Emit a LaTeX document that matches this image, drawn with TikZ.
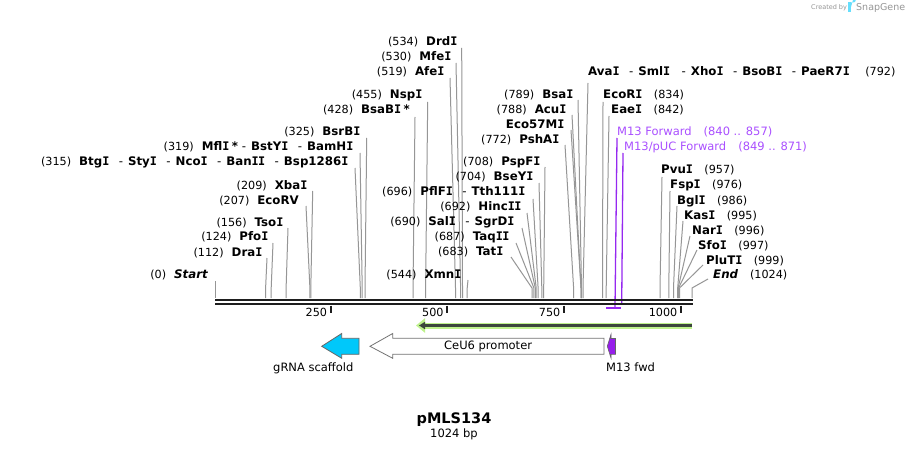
\documentclass[tikz,border=0pt]{standalone}
\usepackage{fontspec}
\setmainfont{DejaVu Sans}
\newfontfamily\monob{DejaVu Sans Mono}
\usetikzlibrary{arrows.meta}
\definecolor{cutgray}{RGB}{150,150,150}
\definecolor{primtxt}{RGB}{170,80,255}
\definecolor{primline}{RGB}{150,40,240}
\definecolor{m13fill}{RGB}{150,30,235}
\definecolor{cyanfill}{RGB}{0,200,250}
\definecolor{glowgreen}{RGB}{190,242,140}
\definecolor{darkline}{RGB}{60,70,60}
\definecolor{bb}{RGB}{30,30,30}
\definecolor{logo}{RGB}{150,150,150}
\newcommand{\numf}{\fontsize{11.2}{13}\selectfont}
\newcommand{\enzf}{\fontsize{11.8}{13}\selectfont\bfseries}
\newcommand{\VI}{{\monob I}\kern-0.6pt}
\newcommand{\cutL}[2]{{\numf(#1)}\hspace{8pt}{\enzf #2}}
\newcommand{\cutR}[2]{{\enzf #1}\hspace{12pt}{\numf(#2)}}
\newcommand{\dsh}{\hspace{10pt}{\mdseries-}\hspace{5pt}}
\newcommand{\cutline}[4]{%
  \coordinate (#1s) at (#2,#3);
  \coordinate (#1k) at (#4,288);
  \coordinate (#1e) at (#4,298);
  \draw[cutln] (#1s) -- (#1k) -- (#1e);}
\begin{document}
\begin{tikzpicture}[x=1pt,y=-1pt,
  lblL/.style={anchor=base east,inner sep=0pt},
  lblR/.style={anchor=base west,inner sep=0pt},
  cutln/.style={draw=cutgray,line width=1pt},
  primln/.style={draw=primline,line width=1.3pt},
  featlbl/.style={anchor=base west,inner sep=0pt,font=\fontsize{11.5}{13}\selectfont},
  tickln/.style={draw=bb,line width=2pt},
  ticklbl/.style={anchor=base east,inner sep=0pt,font=\fontsize{11.2}{13}\selectfont}]
\useasboundingbox (0,0) rectangle (909,449);
\fill[white] (0,0) rectangle (909,449);

% logo
\node[anchor=base west,inner sep=0pt,text=logo,font=\fontsize{6.5}{8}\selectfont] (cby) at (811,10) {Created by};
\fill[cyanfill!60] (848,2.5) rectangle (851,12);
\fill[cyanfill!60] (851,2.5) -- (853.5,2.5) arc (90:-90:2.2) -- (851,6.9) -- cycle;
\node[anchor=base west,inner sep=0pt,text=logo,font=\fontsize{9.5}{11}\selectfont] (sgn) at (856,11) {SnapGene};

% ---------- left stack ----------
\node[lblL] (start) at (208,278.7) {{\numf(0)}\hspace{8pt}{\enzf\itshape Start}};
\cutline{c0}{215.3}{281}{215.3}
\node[lblL] (dra) at (262,256) {\cutL{112}{Dra\VI}};
\cutline{c1}{267}{258}{265.6}
\node[lblL] (pfo) at (268,240.7) {\cutL{124}{Pfo\VI}};
\cutline{c2}{273}{243}{271.2}
\node[lblL] (tso) at (283,226) {\cutL{156}{Tso\VI}};
\cutline{c3}{288}{228}{286.1}
\node[lblL] (ecorv) at (299,204) {\cutL{207}{EcoRV}};
\cutline{c4}{306}{206}{309.9}
\node[lblL] (xba) at (307,189.3) {\cutL{209}{Xba\VI}};
\cutline{c5}{312.7}{191}{310.8}
\node[lblL] (btg) at (348,165.5) {\cutL{315}{Btg\VI\dsh Sty\VI\dsh Nco\VI\dsh Ban\VI\VI\dsh Bsp1286\VI}};
\cutline{c6}{355}{168}{360.3}
\node[lblL] (mfl) at (353,150.7) {\cutL{319}{Mfl\VI\hspace{3pt}*\hspace{4pt}{\mdseries-}\hspace{5pt}BstY\VI\dsh BamH\VI}};
\cutline{c7}{360}{153}{362.2}
\node[lblL] (bsrb) at (360,136) {\cutL{325}{BsrB\VI}};
\cutline{c8}{366.7}{138}{365}

% ---------- middle stack ----------
\node[lblL] (bsab) at (410,113.3) {\cutL{428}{BsaB\VI\hspace{3pt}*}};
\cutline{c9}{415}{117}{413}
\node[lblL] (nsp) at (422,98.3) {\cutL{455}{Nsp\VI}};
\cutline{c10}{427.7}{102}{425.6}
\node[lblL] (afe) at (444,75.7) {\cutL{519}{Afe\VI}};
\cutline{c11}{450}{78}{455.5}
\node[lblL] (mfe) at (451,60.7) {\cutL{530}{Mfe\VI}};
\cutline{c12}{456}{63}{460.6}
\node[lblL] (drd) at (457,46) {\cutL{534}{Drd\VI}};
\cutline{c13}{461.7}{48}{462.5}
\node[lblL] (xmn) at (461,278.3) {\cutL{544}{Xmn\VI}};
\cutline{c14}{468}{280}{467.2}
\node[lblL] (tat) at (503,255.7) {\cutL{683}{Tat\VI}};
\cutline{c15}{511}{257}{532}
\node[lblL] (taq) at (509,240.7) {\cutL{687}{Taq\VI\VI}};
\cutline{c16}{516}{243}{533.9}
\node[lblL] (sal) at (514,225.7) {\cutL{690}{Sal\VI\dsh SgrD\VI}};
\cutline{c17}{522}{228}{535.3}
\node[lblL] (hinc) at (521,210.7) {\cutL{692}{Hinc\VI\VI}};
\cutline{c18}{527}{213}{536.2}
\node[lblL] (pflf) at (525,195.7) {\cutL{696}{PflF\VI\dsh Tth111\VI}};
\cutline{c19}{533}{199}{538.1}
\node[lblL] (bsey) at (533,180.7) {\cutL{704}{BseY\VI}};
\cutline{c20}{539}{183}{541.8}
\node[lblL] (pspf) at (540,166) {\cutL{708}{PspF\VI}};
\cutline{c21}{545}{167}{543.7}
\node[lblL] (psha) at (559,143.3) {\cutL{772}{PshA\VI}};
\cutline{c22}{565}{145}{573.6}
\node[lblL] (eco57) at (564,128.3) {{\enzf Eco57M\VI}};
\cutline{c23}{571}{130}{581}
\node[lblL] (acu) at (566,113.3) {\cutL{788}{Acu\VI}};
\cutline{c24}{572}{115}{581}
\node[lblL] (bsa) at (573,98.3) {\cutL{789}{Bsa\VI}};
\cutline{c25}{578}{100}{581.5}

% ---------- right stack ----------
\node[lblR] (ava) at (588,75.7) {{\enzf Ava\VI\dsh Sml\VI\hspace{2pt}\dsh Xho\VI\dsh BsoB\VI\dsh PaeR7\VI}\hspace{16pt}{\numf(792)}};
\cutline{c26}{588}{83}{583}
\node[lblR] (ecori) at (603,99) {\cutR{EcoR\VI}{834}};
\cutline{c27}{603}{102}{602.5}
\node[lblR] (eae) at (611,114) {\cutR{Eae\VI}{842}};
\cutline{c28}{609}{116}{606.2}
\node[lblR] (pvu) at (661,174) {\cutR{Pvu\VI}{957}};
\cutline{c29}{662}{177}{660}
\node[lblR] (fsp) at (670,189) {\cutR{Fsp\VI}{976}};
\cutline{c30}{670}{191}{668.8}
\node[lblR] (bgl) at (677,204) {\cutR{Bgl\VI}{986}};
\cutline{c31}{677}{206}{673.5}
\node[lblR] (kas) at (684,219) {\cutR{Kas\VI}{995}};
\cutline{c32}{683}{221}{677.7}
\node[lblR] (nar) at (692,234) {\cutR{Nar\VI}{996}};
\cutline{c33}{690}{236}{678.1}
\node[lblR] (sfo) at (698,249) {\cutR{Sfo\VI}{997}};
\cutline{c34}{697}{250}{678.6}
\node[lblR] (plut) at (706,264) {\cutR{PluT\VI}{999}};
\cutline{c35}{703}{265}{679.5}
\node[lblR] (endl) at (713,278.3) {{\enzf\itshape End}\hspace{12pt}{\numf(1024)}};
\cutline{c36}{708}{279}{692}

% primers
\node[lblR,text=primtxt,font=\fontsize{11.5}{13}\selectfont] (m13f) at (617,135.7) {M13 Forward\hspace{12pt}(840 .. 857)};
\coordinate (p1s) at (617,138);
\coordinate (p1e) at (615,308);
\draw[primln] (p1s) -- (p1e);
\coordinate (p1a) at (606,308);
\coordinate (p1b) at (621,308);
\draw[primln] (p1a) -- (p1b);
\node[lblR,text=primtxt,font=\fontsize{11.5}{13}\selectfont] (m13puc) at (624,150.7) {M13/pUC Forward\hspace{12pt}(849 .. 871)};
\coordinate (p2s) at (623,153);
\coordinate (p2e) at (621.7,304);
\draw[primln] (p2s) -- (p2e);

% backbone
\coordinate (bbl) at (215,300);
\coordinate (bbr) at (692.5,300);
\coordinate (bbl2) at (215,304.2);
\coordinate (bbr2) at (692.5,304.2);
\draw[bb,line width=2.3pt] (bbl) -- (bbr);
\draw[bb,line width=2.3pt] (bbl2) -- (bbr2);

% ticks
\foreach \tx/\tl/\nm in {330.7/250/t1,447.3/500/t2,564/750/t3,681/1000/t4}{
  \coordinate (\nm a) at (\tx,305.5);
  \coordinate (\nm b) at (\tx,313);
  \draw[tickln] (\nm a) -- (\nm b);
  \node[ticklbl] (\nm l) at (\tx-3.5,316.3) {\tl};
}

% green strand arrow
\coordinate (gs) at (692,325.5);
\coordinate (ge) at (416,325.5);
\draw[glowgreen,line width=6pt,-{Triangle[length=9pt,width=14pt]}] (gs) -- (ge);
\draw[darkline,line width=2.2pt,-{Triangle[length=6pt,width=7pt]}] (gs) -- ([xshift=3pt]ge);

% gRNA scaffold arrow
\draw[draw=black!60,fill=cyanfill,line width=0.8pt] (359,338.3) -- (341.7,338.3) -- (341.7,333.5) -- (321.7,346.3) -- (341.7,358.3) -- (341.7,354.3) -- (359,354.3) -- cycle;
\node[featlbl] (grna) at (273,371.7) {gRNA scaffold};

% CeU6 promoter arrow
\draw[draw=black!55,fill=white,line width=0.8pt] (604,338.3) -- (392.7,338.3) -- (392.7,333.5) -- (370,346.3) -- (392.7,358.3) -- (392.7,354.3) -- (604,354.3) -- cycle;
\node[featlbl] (ceu6) at (444,349.5) {CeU6 promoter};

% M13 fwd feature
\draw[draw=black!60,fill=m13fill,line width=0.6pt] (615.5,338.5) -- (611,338.5) -- (611,334.3) -- (607.3,346.3) -- (611,358) -- (611,354.3) -- (615.5,354.3) -- cycle;
\node[featlbl] (m13fwd) at (606,371.7) {M13 fwd};

% title
\node[anchor=base,inner sep=0pt,font=\fontsize{14.5}{16}\selectfont\bfseries] (title) at (454,423.3) {pMLS134};
\node[anchor=base,inner sep=0pt,font=\fontsize{11.5}{12}\selectfont] (bp) at (454,437.5) {1024 bp};
\end{tikzpicture}
\end{document}
